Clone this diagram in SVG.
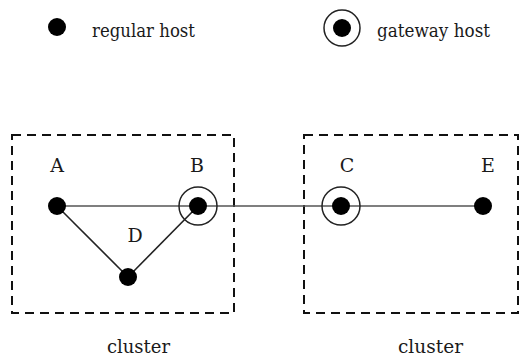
<svg xmlns="http://www.w3.org/2000/svg" width="519" height="364" viewBox="0 0 519 364">
  <style>
    .lbl { font-family: "DejaVu Serif", "Liberation Serif", serif; font-size: 19px; fill: #1a1a1a; }
    .cluster { fill: none; stroke: #111; stroke-width: 2; stroke-dasharray: 9 6; }
    .link { stroke: #555; stroke-width: 1.6; fill: none; }
    .link-dark { stroke: #222; }
    .dot { fill: #000; }
    .ring { fill: none; stroke: #222; stroke-width: 1.5; }
  </style>
  <rect width="519" height="364" fill="#fff"/>

  <!-- legend -->
  <g id="legend">
    <circle class="dot" cx="57" cy="27" r="9"/>
    <text class="lbl" x="92" y="37" textLength="103" lengthAdjust="spacingAndGlyphs">regular host</text>
    <circle class="ring" cx="342" cy="28" r="18"/>
    <circle class="dot" cx="342" cy="28" r="9"/>
    <text class="lbl" x="377" y="37" textLength="113" lengthAdjust="spacingAndGlyphs">gateway host</text>
  </g>

  <!-- clusters -->
  <g id="cluster-left">
    <rect class="cluster" x="12" y="135" width="222" height="178"/>
    <text class="lbl" x="107" y="353" textLength="63" lengthAdjust="spacingAndGlyphs">cluster</text>
  </g>
  <g id="cluster-right">
    <rect class="cluster" x="304" y="135" width="214" height="178"/>
    <text class="lbl" x="398" y="353" textLength="65" lengthAdjust="spacingAndGlyphs">cluster</text>
  </g>

  <!-- links -->
  <g id="connectors">
    <line class="link" x1="57" y1="206" x2="483" y2="206"/>
    <line class="link link-dark" x1="57" y1="206" x2="128" y2="277"/>
    <line class="link link-dark" x1="128" y1="277" x2="198" y2="206"/>
  </g>

  <!-- hosts -->
  <g id="node-A">
    <circle class="dot" cx="57" cy="206" r="9"/>
    <text class="lbl" x="57" y="172" text-anchor="middle">A</text>
  </g>
  <g id="node-B">
    <circle class="ring" cx="198" cy="206" r="19"/>
    <circle class="dot" cx="198" cy="206" r="9"/>
    <text class="lbl" x="197" y="172" text-anchor="middle">B</text>
  </g>
  <g id="node-D">
    <circle class="dot" cx="128" cy="277" r="9"/>
    <text class="lbl" x="135" y="242" text-anchor="middle">D</text>
  </g>
  <g id="node-C">
    <circle class="ring" cx="341" cy="206" r="19"/>
    <circle class="dot" cx="341" cy="206" r="9"/>
    <text class="lbl" x="347" y="172" text-anchor="middle">C</text>
  </g>
  <g id="node-E">
    <circle class="dot" cx="483" cy="206" r="9"/>
    <text class="lbl" x="488" y="172" text-anchor="middle">E</text>
  </g>
</svg>
